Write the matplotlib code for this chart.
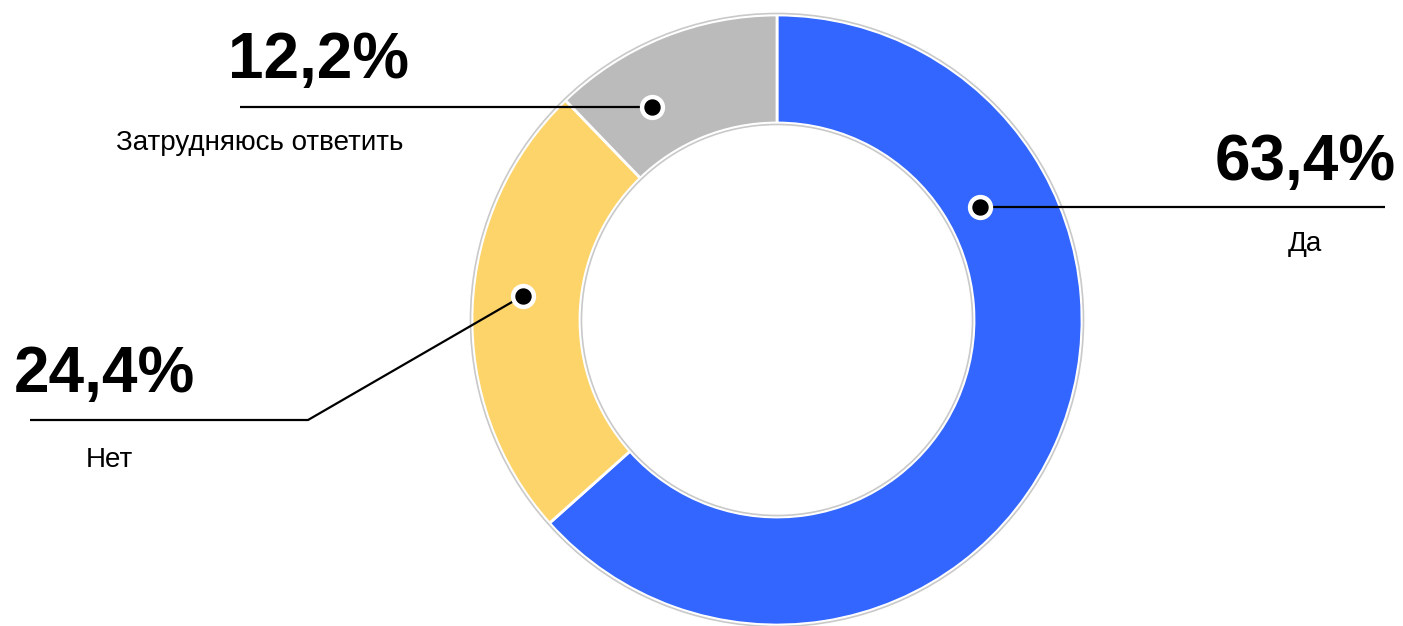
import numpy as np
import matplotlib.pyplot as plt

plt.rcParams['font.family'] = ['Liberation Sans', 'DejaVu Sans']

# Data
categories = ["Да", "Нет", "Затрудняюсь ответить"]
values = [63.4, 24.4, 12.2]
value_labels = ["63,4%", "24,4%", "12,2%"]
colors = ["#3366ff", "#fdd46a", "#bbbbbb"]

# Figure in pixel units (y up)
W, H = 1403, 626
fig = plt.figure(figsize=(W / 100, H / 100), dpi=100)
ax = fig.add_axes([0, 0, 1, 1])

cx, cy = 777, H - 320   # donut centre
R = 305                 # outer radius
ring = 0.354            # ring width as fraction of R

wedges, _ = ax.pie(values, colors=colors, startangle=90, counterclock=False,
                   center=(cx, cy), radius=R, frame=True,
                   wedgeprops=dict(width=R * ring, edgecolor="white", linewidth=2))
ax.set_xlim(0, W)
ax.set_ylim(0, H)
ax.set_aspect("equal")
ax.axis("off")

# thin grey outlines outside / inside the ring
ax.add_patch(plt.Circle((cx, cy), R + 1.5, fill=False, ec="#c9c9c9", lw=1.2))
ax.add_patch(plt.Circle((cx, cy), R * (1 - ring) - 1.5, fill=False, ec="#c9c9c9", lw=1.2))

# label layout: position of the dot inside its wedge, leader line path, text placement
dot_frac = [0.267, 0.538, 0.31]     # fraction along the wedge (clockwise)
dot_rad = [0.76, 0.836, 0.81]       # fraction of outer radius
elbows = [None, (308, H - 420), None]
line_end_x = [1385, 30, 240]
val_pos = [(1396, H - 180, "right"), (14, H - 392, "left"), (228, H - 78, "left")]
cat_pos = [(1305, H - 251), (109, H - 467), (260, H - 150)]

for i, w in enumerate(wedges):
    ang = np.deg2rad(w.theta2 - dot_frac[i] * (w.theta2 - w.theta1))
    dx = cx + R * dot_rad[i] * np.cos(ang)
    dy = cy + R * dot_rad[i] * np.sin(ang)
    if elbows[i] is None:
        xs, ys = [dx, line_end_x[i]], [dy, dy]
    else:
        ex, ey = elbows[i]
        xs, ys = [dx, ex, line_end_x[i]], [dy, ey, ey]
    ax.plot(xs, ys, color="black", lw=1.6, solid_capstyle="butt", zorder=3)
    ax.plot(dx, dy, "o", ms=15, mfc="black", mec="white", mew=3.2, zorder=4)

    x, y, ha = val_pos[i]
    ax.text(x, y, value_labels[i], ha=ha, va="baseline", fontsize=46,
            fontweight="bold", color="black")
    ax.text(cat_pos[i][0], cat_pos[i][1], categories[i], ha="center",
            va="baseline", fontsize=20, color="black")

fig.savefig("out.png", dpi=100, facecolor="white")
